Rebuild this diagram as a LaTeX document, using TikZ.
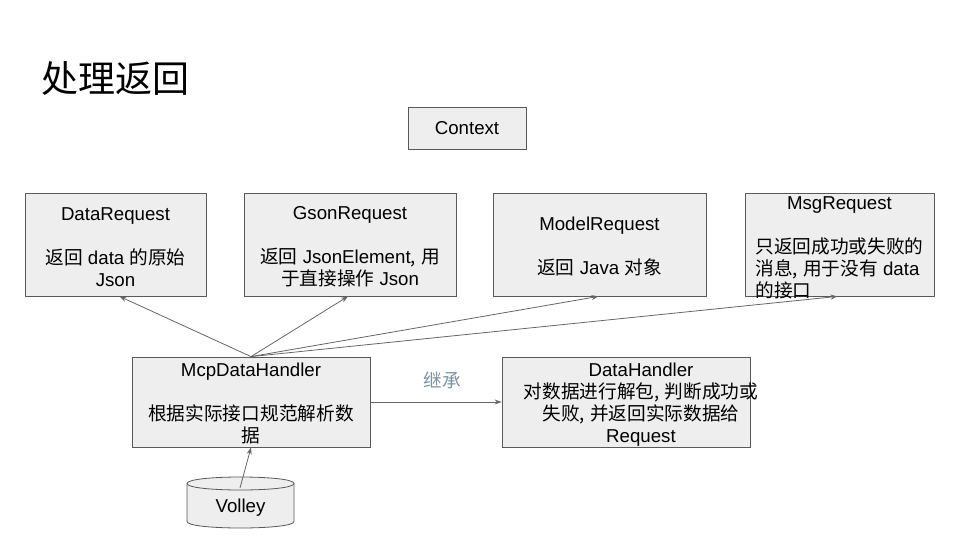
\documentclass[tikz,border=0pt]{standalone}
\usepackage{fontspec}
\setmainfont{Liberation Sans}
\newfontfamily\cjk{Noto Sans CJK SC}
\usetikzlibrary{arrows.meta,calc}
\definecolor{boxfill}{HTML}{EEEEEE}
\definecolor{boxline}{HTML}{595959}
\definecolor{arrowc}{HTML}{666666}
\definecolor{labelc}{HTML}{7D92A3}
\newcommand\zh[1]{{\cjk #1}}
\newcommand\zc{{\cjk ,}\ }
\newcommand\tstrut{\rule{0pt}{17.5pt}}
\newcommand\ml[1]{\makebox[168pt][l]{#1}}
\begin{document}
\begin{tikzpicture}[x=1pt,y=-1pt,
  box/.style={draw=boxline, fill=boxfill, line width=0.8pt, inner sep=0pt, align=center,
    font=\fontsize{18.67}{22}\selectfont},
  boxtext/.style={inner sep=0pt, align=center, font=\fontsize{18.67}{22}\selectfont},
  conn/.style={draw=arrowc, line width=0.8pt, -{Stealth[length=7pt,width=5pt]}}]
\useasboundingbox (0,0) rectangle (960,540);
\fill[white] (0,0) rectangle (960,540);

\node[anchor=base west, inner sep=0pt, font=\cjk\fontsize{37}{40}\selectfont] (title) at (41,93) {处理返回};

\node[box, minimum width=118, minimum height=42] (ctx) at (467,128) {Context};

\node[box, minimum width=181, minimum height=103] (dreq) at (115.5,244.5)
  {\tstrut DataRequest\\[22pt]\zh{返回} data \zh{的原始}\\Json};
\node[box, minimum width=212, minimum height=103] (gson) at (350,244.5)
  {\tstrut GsonRequest\\[22pt]\zh{返回} JsonElement\zc\zh{用}\\\zh{于直接操作} Json};
\node[box, minimum width=213, minimum height=103] (model) at (599.5,244.5)
  {\tstrut ModelRequest\\[22pt]\zh{返回} Java \zh{对象}};
\node[box, minimum width=189, minimum height=103,
  label={[name=msgtext, boxtext, yshift=-1pt]center:{\tstrut MsgRequest\\[22pt]\ml{\zh{只返回成功或失败的}}\\\ml{\zh{消息}\zc\zh{用于没有} data}\\\ml{\zh{的接口}}}}]
  (msg) at (839.5,244.5) {};

\node[box, minimum width=238, minimum height=90] (mcp) at (251,402)
  {\tstrut McpDataHandler\\[22pt]\zh{根据实际接口规范解析数}\\\zh{据}};
\node[box, minimum width=248, minimum height=90,
  label={[name=dhtext, boxtext, xshift=15pt, yshift=-1pt]center:{\tstrut DataHandler\\\zh{对数据进行解包}\zc\zh{判断成功或}\\\zh{失败}\zc\zh{并返回实际数据给}\\Request}}]
  (dh) at (626,402) {};

% cylinder
\filldraw[draw=boxline, fill=boxfill, line width=0.8pt]
  (187,483.5) -- (187,521.5) .. controls (187,530.17) and (294,530.17) .. (294,521.5)
  -- (294,483.5) .. controls (294,474.83) and (187,474.83) .. (187,483.5) -- cycle;
\draw[draw=boxline, line width=0.8pt]
  (187,483.5) .. controls (187,492.17) and (294,492.17) .. (294,483.5);
\node[inner sep=0pt, minimum width=107, minimum height=40, font=\fontsize{18.67}{22}\selectfont] (volley) at (240.5,508) {Volley};

\node[inner sep=0pt, text=labelc, font=\fontsize{18.67}{22}\selectfont] (inh) at (442,380) {\zh{继承}};

\coordinate (vs) at (240,488);
\draw[conn] (mcp.north) -- ($(dreq.south)+(4,0)$);
\draw[conn] (mcp.north) -- ($(gson.south)+(-2,0)$);
\draw[conn] (mcp.north) -- ($(model.south)+(-1,0)$);
\draw[conn] (mcp.north) -- ($(msg.south)+(-2,0)$);
\draw[conn] (mcp.east) -- (dh.west);
\draw[conn] (vs) -- (mcp.south);
\end{tikzpicture}
\end{document}
